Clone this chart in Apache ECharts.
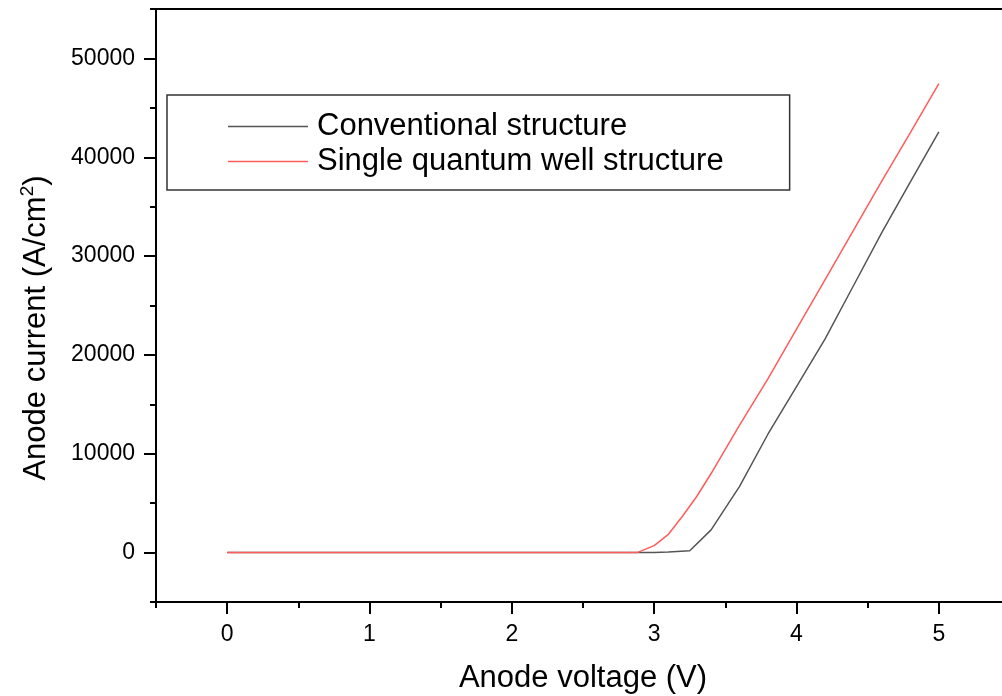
<!DOCTYPE html>
<html>
<head>
<meta charset="utf-8">
<title>Anode current vs anode voltage</title>
<script src="https://cdn.jsdelivr.net/npm/echarts@6/dist/echarts.min.js"></script>
<style>
  html, body { margin: 0; padding: 0; background: #fff; }
  #chart { width: 1002px; height: 696px; }
</style>
</head>
<body>
<div id="chart"></div>
<script>
// Anode voltage (V) and current density (A/cm^2) for the two device structures
const voltageConventional = [0, 2.9, 3.0, 3.1, 3.25, 3.4, 3.6, 3.8, 4.0, 4.2, 4.4, 4.6, 4.8, 5.0];
const currentConventional = [0, 0, 0, 50, 180, 2300, 6700, 12000, 16800, 21600, 27000, 32400, 37500, 42570];

const voltageQuantumWell = [0, 2.88, 3.0, 3.1, 3.2, 3.3, 3.4, 3.6, 3.8, 4.0, 4.2, 4.4, 4.6, 4.8, 5.0];
const currentQuantumWell = [0, 0, 700, 1850, 3700, 5700, 8000, 12900, 17600, 22600, 27600, 32600, 37600, 42500, 47460];

const seriesNames = ['Conventional structure', 'Single quantum well structure'];
const xTickValues = [0, 1, 2, 3, 4, 5];
const yTickValues = [0, 10000, 20000, 30000, 40000, 50000];

const FONT = '"Liberation Sans", Arial, Helvetica, sans-serif';

function pairs(xs, ys) {
  return xs.map((x, i) => [x, ys[i]]);
}

const chart = echarts.init(document.getElementById('chart'), null, { renderer: 'canvas' });

const axisBlack = { color: '#000', width: 2 };
const plainNumber = (v) => String(v);

chart.setOption({
  backgroundColor: '#fff',
  animation: false,
  grid: {
    left: 156,
    top: 9,
    width: 854,
    height: 593,
    containLabel: false,
    outerBoundsMode: 'none',
    show: true,
    borderColor: '#000',
    borderWidth: 2,
    backgroundColor: 'transparent'
  },
  legend: {
    orient: 'vertical',
    left: 167,
    top: 95,
    padding: [16, 66, 13, 61],
    itemGap: 4,
    icon: 'rect',
    itemWidth: 80,
    itemHeight: 1.5,
    borderColor: '#333',
    borderWidth: 1.5,
    backgroundColor: '#fff',
    textStyle: { fontFamily: FONT, fontSize: 31, color: '#000', lineHeight: 30, padding: [0, 0, 0, 4] },
    data: seriesNames
  },
  xAxis: [
    {
      // minor ticks every 0.5 V
      type: 'value',
      position: 'bottom',
      min: -0.5,
      max: 5.5,
      interval: 0.5,
      axisLine: { onZero: false, lineStyle: axisBlack },
      axisTick: { length: 6, lineStyle: axisBlack },
      axisLabel: { show: false },
      splitLine: { show: false }
    },
    {
      // major ticks and labels at whole volts
      type: 'value',
      position: 'bottom',
      min: -0.5,
      max: 5.5,
      axisLine: { show: false, onZero: false },
      axisTick: { customValues: xTickValues, length: 12, lineStyle: axisBlack },
      axisLabel: {
        customValues: xTickValues,
        formatter: plainNumber,
        margin: 21,
        fontFamily: FONT,
        fontSize: 23,
        color: '#000'
      },
      splitLine: { show: false },
      name: 'Anode voltage (V)',
      nameLocation: 'middle',
      nameGap: 61,
      nameTextStyle: { fontFamily: FONT, fontSize: 31, color: '#000' }
    }
  ],
  yAxis: [
    {
      // minor ticks every 5000 A/cm^2
      type: 'value',
      position: 'left',
      min: -5000,
      max: 55000,
      interval: 5000,
      axisLine: { onZero: false, lineStyle: axisBlack },
      axisTick: { length: 6, lineStyle: axisBlack },
      axisLabel: { show: false },
      splitLine: { show: false }
    },
    {
      // major ticks and labels every 10000 A/cm^2
      type: 'value',
      position: 'left',
      min: -5000,
      max: 55000,
      axisLine: { show: false, onZero: false },
      axisTick: { customValues: yTickValues, length: 12, lineStyle: axisBlack },
      axisLabel: {
        customValues: yTickValues,
        formatter: plainNumber,
        margin: 21,
        fontFamily: FONT,
        fontSize: 23,
        color: '#000'
      },
      splitLine: { show: false }
    }
  ],
  graphic: [
    {
      // y-axis title with superscript unit
      type: 'text',
      x: 36,
      y: 328,
      rotation: Math.PI / 2,
      style: {
        text: 'Anode current (A/cm{sup|2})',
        fontFamily: FONT,
        fontSize: 31,
        lineHeight: 36,
        fill: '#000',
        align: 'center',
        verticalAlign: 'middle',
        rich: {
          sup: { fontFamily: FONT, fontSize: 19, lineHeight: 19, fill: '#000', verticalAlign: 'top' }
        }
      }
    }
  ],
  series: [
    {
      name: seriesNames[0],
      type: 'line',
      xAxisIndex: 0,
      yAxisIndex: 0,
      symbol: 'none',
      lineStyle: { color: '#555', width: 1.5 },
      itemStyle: { color: '#555' },
      data: pairs(voltageConventional, currentConventional)
    },
    {
      name: seriesNames[1],
      type: 'line',
      xAxisIndex: 0,
      yAxisIndex: 0,
      symbol: 'none',
      lineStyle: { color: '#ff5c5c', width: 1.5 },
      itemStyle: { color: '#ff5c5c' },
      data: pairs(voltageQuantumWell, currentQuantumWell)
    }
  ]
});
</script>
</body>
</html>
